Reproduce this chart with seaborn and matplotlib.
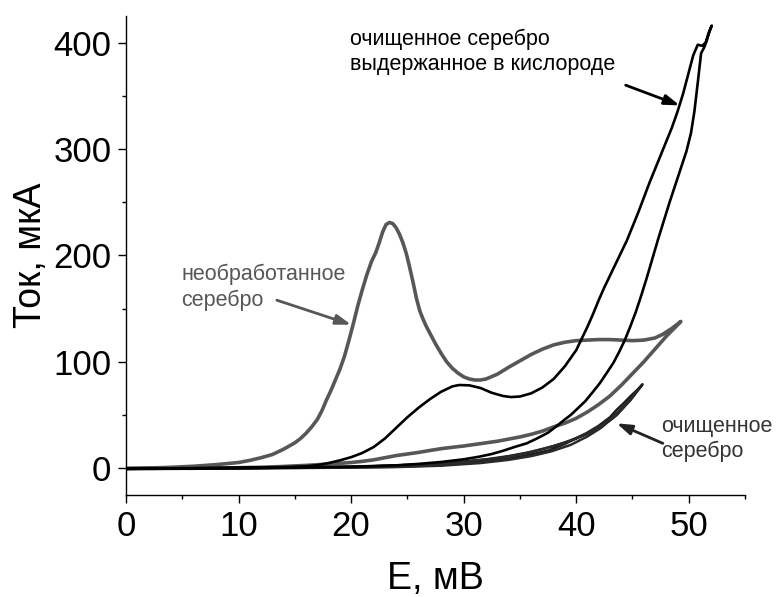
import numpy as np
import pandas as pd
import matplotlib
matplotlib.use('Agg')
import matplotlib.pyplot as plt
import seaborn as sns
from matplotlib.ticker import MultipleLocator

# ------------------------------------------------------------
# data (E, mV  vs  I, uA)
# ------------------------------------------------------------
# untreated silver: forward sweep then reverse sweep
raw_x = [0, 2, 4, 6, 8, 10, 11, 12, 13, 14, 14.5, 15, 15.5, 16, 16.5, 17, 17.4, 17.8, 18.2,
         18.6, 19, 19.4, 19.8, 20.2, 20.6, 21, 21.4, 21.8, 22.2, 22.5, 22.8, 23.1, 23.4, 23.7,
         24, 24.3, 24.6, 24.9, 25.2, 25.5, 25.8, 26.1, 26.4, 26.7, 27, 27.5, 28, 28.5, 29,
         29.5, 30, 30.5, 31, 31.5, 32, 33, 34, 35, 36, 37, 38, 39, 40, 41, 42, 43, 44, 45, 46,
         47, 47.7, 48.5, 49.3,
         48.8, 48, 47, 46, 45, 44, 43, 42, 41, 40, 39, 38, 37, 36, 35, 34, 33, 32, 31, 30, 29,
         28, 27, 26, 25, 24, 23, 22, 21, 20, 18, 16, 14, 12, 10, 8, 6, 4, 2, 0]
raw_y = [0, 0.3, 1, 2, 3.5, 5.5, 7.5, 10, 13, 18, 21, 24, 28, 33, 39, 46, 54, 64, 73,
         83, 93, 105, 120, 136, 153, 168, 182, 194, 203, 212, 222, 229, 231, 230,
         226, 220, 212, 202, 189, 175, 160, 148, 140, 133, 127, 117, 108, 100, 94,
         89.5, 86, 84, 83, 83, 84, 88.5, 95, 101, 107, 112, 116, 118.5, 120, 120.5, 121, 121, 120.5, 120, 120.5,
         122.5, 126, 131.5, 138,
         132.5, 124, 112, 100, 89, 78, 68, 60, 53, 47, 42.5, 39, 35, 32, 29.5, 27.5, 25.5, 24, 22.5, 21, 19.8,
         18.5, 16.8, 15, 13.5, 12, 10, 8, 6.6, 5.5, 4, 2.8, 1.8, 1, 0.6, 0.3, 0.1, 0, -0.2, -0.3]

# purified silver kept in oxygen
oxy_x = [0, 4, 8, 12, 14, 16, 17, 18, 19, 20, 21, 22, 23, 24, 25, 26, 27, 28, 29, 29.6,
         30.5, 31.5, 32.5, 33.5, 34.2, 35, 36, 37, 38, 39, 40, 40.5, 41, 41.5, 42, 42.5, 43,
         43.5, 44, 44.5, 45, 45.5, 46, 46.5, 47, 47.5, 48, 48.5, 49, 49.5, 50, 50.4, 50.8,
         51.2, 51.5, 51.8, 52.05,
         51.9, 51.6, 51.4, 51.1, 50.8, 50.5, 50.2, 49.8, 49.3, 48.8, 48.3, 47.8, 47.3, 46.8,
         46.3, 45.8, 45.3, 44.8, 44.3, 43.8, 43.3, 42.8, 42.1, 41.5, 40.8, 40.3, 39.5, 39,
         38.3, 37.5, 36.5, 35.6, 34.5, 33.5, 32.5, 31.4, 30, 28, 26, 24.3, 22, 20, 15, 10, 5, 0]
oxy_y = [0, 0, 0.3, 0.8, 1.2, 2, 3, 5, 7.5, 10.5, 14.5, 20, 28, 38, 48, 57, 65, 72, 77, 78.3,
         78, 75.5, 71, 68, 67, 67.5, 70.5, 76, 84, 96, 111, 122, 133, 145, 158, 170, 181,
         192, 203, 214, 227, 240, 254, 268, 281, 294, 307, 320, 335, 352, 372, 388, 398,
         397, 400, 410, 416,
         412, 402, 396, 390, 362, 335, 315, 298, 282, 266, 250, 233, 216, 198,
         180, 163, 147, 133, 120, 109, 99, 91, 80, 72, 63, 58, 50, 46,
         40, 33.5, 28, 23.5, 20, 16.5, 13.5, 11, 8.5, 6, 4.2, 3, 2, 1.5, 0.7, 0.3, 0.1, 0]

# purified silver, two cycles
pur1_x = [0, 5, 10, 15, 20, 24, 28, 31.7, 34, 36, 37.6, 39, 40.9, 42, 43, 43.6, 44.2, 44.8,
          45.4, 45.9,
          45.4, 44.8, 44.2, 43.6, 43, 42, 41, 40, 38, 36, 34, 32, 30, 27, 24, 20, 15, 10, 5, 0]
pur1_y = [0, 0.1, 0.3, 0.5, 0.9, 1.5, 3, 6, 9, 13, 17, 23, 33, 40, 48, 55, 61, 67.5,
          73.5, 79,
          72, 64, 57, 50, 45, 38, 32.5, 28, 21, 15.5, 11.5, 8.5, 6.5, 4.2, 2.8, 1.7, 0.8, 0.3, 0.1, 0]
pur2_x = [0, 5, 10, 15, 20, 24, 28, 31.5, 34, 36, 37.8, 39.5, 41, 42.2, 43.2, 44, 44.8, 45.5,
          45, 44.4, 43.8, 43, 42, 41, 40, 39, 37, 35, 33, 30, 26, 22, 18, 12, 6, 0]
pur2_y = [-0.5, -0.3, 0, 0.3, 0.7, 1.2, 2.5, 5, 8, 11.5, 16, 22, 30, 38, 47, 55, 64, 74,
          67, 60, 53.5, 46, 39, 33, 28.5, 24, 18, 13, 9.5, 6, 3.5, 2, 1, 0.4, 0, -0.5]

label_top = 'очищенное серебро\nвыдержанное в кислороде'
label_raw = 'необработанное\nсеребро'
label_pur = 'очищенное\nсеребро'

# ------------------------------------------------------------
# plot
# ------------------------------------------------------------
sns.set_style('ticks')
plt.rcParams['font.family'] = ['Liberation Sans', 'DejaVu Sans']
plt.rcParams['text.color'] = 'black'
plt.rcParams['axes.labelcolor'] = 'black'
plt.rcParams['xtick.color'] = 'black'
plt.rcParams['ytick.color'] = 'black'

fig = plt.figure(figsize=(7.77, 5.97), dpi=100)
ax = fig.add_axes([0.1622, 0.1709, 0.7966, 0.8023])

grey = '#575757'
sns.lineplot(x=raw_x, y=raw_y, sort=False, estimator=None, ax=ax, color=grey, lw=2.6)
sns.lineplot(x=pur1_x, y=pur1_y, sort=False, estimator=None, ax=ax, color='#1c1c1c', lw=1.8)
sns.lineplot(x=pur2_x, y=pur2_y, sort=False, estimator=None, ax=ax, color='#2a2a2a', lw=1.8)
sns.lineplot(x=oxy_x, y=oxy_y, sort=False, estimator=None, ax=ax, color='black', lw=1.9)

ax.set_xlim(0, 55)
ax.set_ylim(-25, 425)
ax.xaxis.set_major_locator(MultipleLocator(10))
ax.xaxis.set_minor_locator(MultipleLocator(5))
ax.yaxis.set_major_locator(MultipleLocator(100))
ax.yaxis.set_minor_locator(MultipleLocator(50))
ax.tick_params(which='major', direction='out', length=5.5, width=1, labelsize=25, pad=5,
               color='black', labelcolor='black')
ax.tick_params(which='minor', direction='out', length=2.8, width=1, color='black')
sns.despine(ax=ax)
for s in ['left', 'bottom']:
    ax.spines[s].set_linewidth(1.0)
    ax.spines[s].set_color('black')

ax.set_xlabel('E, мВ', fontsize=27, labelpad=13, color='black')
ax.set_ylabel('Ток, мкА', fontsize=27, labelpad=3, color='black')

# annotations
ax.text(19.9, 391, label_top, fontsize=15.5, va='center', ha='left', color='black', linespacing=1.25)
ax.annotate('', xy=(49.2, 341), xytext=(44.4, 360),
            arrowprops=dict(arrowstyle='-|>,head_length=0.9,head_width=0.3', lw=2, color='black',
                            shrinkA=0, shrinkB=0))

ax.text(4.9, 170, label_raw, fontsize=15.5, va='center', ha='left', color=grey, linespacing=1.25)
ax.annotate('', xy=(20.0, 135), xytext=(13.4, 158),
            arrowprops=dict(arrowstyle='-|>,head_length=0.9,head_width=0.3', lw=2, color=grey,
                            shrinkA=0, shrinkB=0))

ax.text(47.55, 27.5, label_pur, fontsize=15.5, va='center', ha='left', color='#333333', linespacing=1.25)
ax.annotate('', xy=(43.6, 42.3), xytext=(47.7, 23.5),
            arrowprops=dict(arrowstyle='-|>,head_length=0.9,head_width=0.3', lw=2, color='#222222',
                            shrinkA=0, shrinkB=0))

fig.savefig('out.png', dpi=100)
